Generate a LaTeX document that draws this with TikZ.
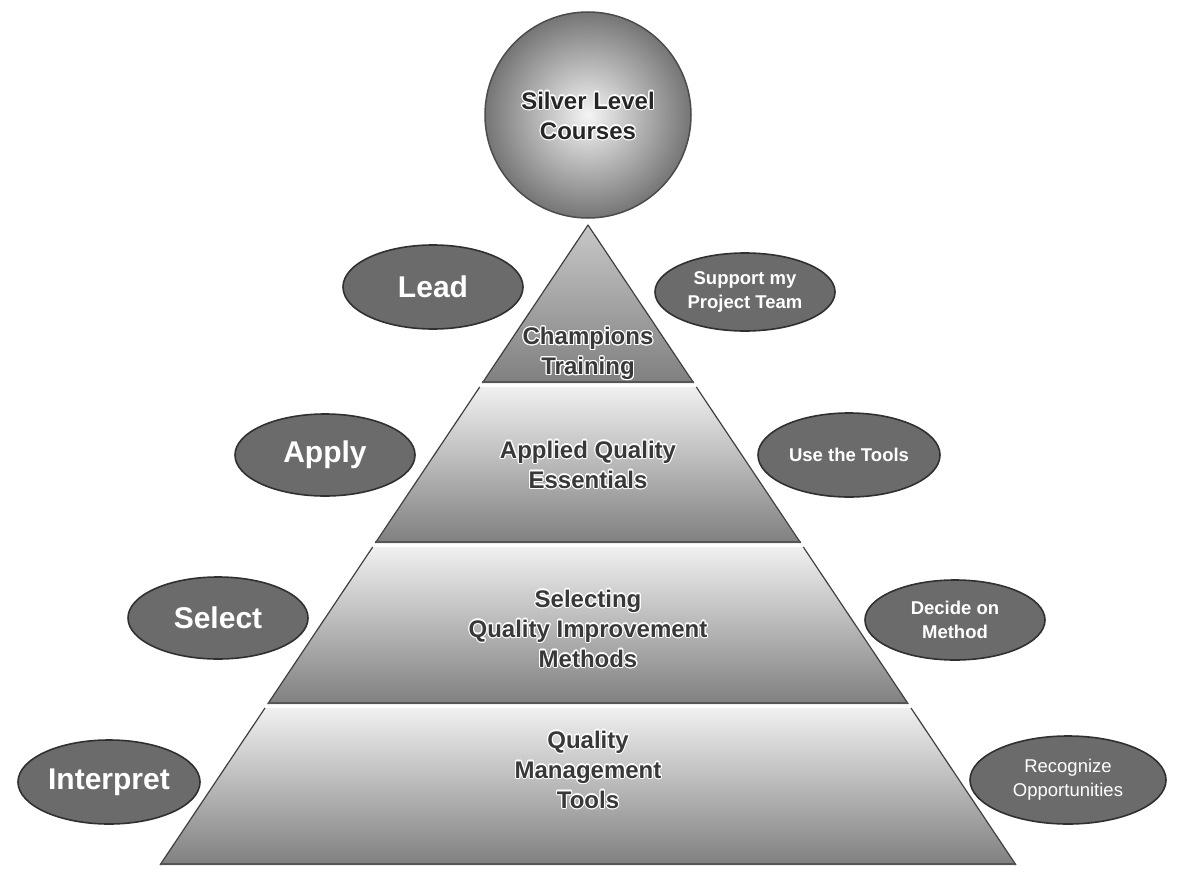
\documentclass[tikz,border=0pt]{standalone}
\usepackage{fontspec}
\setmainfont{Liberation Sans}
\usepackage[copies]{contour}
\usetikzlibrary{shapes.geometric}
\contourlength{1.1pt}
\newcommand{\glowtxt}[1]{\contour{white}{#1}}
\definecolor{bubblefill}{HTML}{6B6B6B}
\definecolor{bubbleline}{HTML}{303030}
\definecolor{tiertext}{HTML}{383838}
\definecolor{tierline}{HTML}{404040}
\definecolor{tierbase}{HTML}{555555}
\tikzset{
  bubble/.style={ellipse, draw=bubbleline, line width=1.6pt, fill=bubblefill, text=white,
    inner sep=0pt, minimum width=180pt, minimum height=82pt, align=center},
  bigword/.style={font=\fontsize{30}{34}\selectfont\bfseries},
  smallword/.style={font=\fontsize{18.5}{24}\selectfont\bfseries},
  thinword/.style={font=\fontsize{18.5}{24}\selectfont},
  tiertxt/.style={align=center, font=\fontsize{24}{30}\selectfont\bfseries, text=tiertext, inner sep=0pt},
  tierfill/.style={top color=white!94!black, bottom color=black!50},
  tieredge/.style={draw=tierline, line width=1.2pt, line join=round},
  tierfoot/.style={draw=tierbase, line width=2.6pt},
}
\begin{document}
\begin{tikzpicture}[x=1pt,y=-1pt]
\useasboundingbox (0,0) rectangle (1186,888);
% top circle
\node[circle, minimum size=206pt, inner sep=0pt, draw=black!70, line width=1.5pt,
      inner color=white!96!black, outer color=black!54] (silver) at (588,115) {};
\node[tiertxt, text=black!85] (silvertxt) at (588,116) {\glowtxt{Silver Level}\\\glowtxt{Courses}};
% pyramid tiers
\shade[top color=black!22, bottom color=black!50] (588,225) -- (693.7,383) -- (482.3,383) -- cycle;
\draw[tieredge] (482.3,383) -- (588,225) -- (693.7,383);
\draw[tierfoot] (482.3,382) -- (693.7,382);

\shade[tierfill] (479.7,387) -- (696.3,387) -- (800.7,543) -- (375.3,543) -- cycle;
\draw[tieredge] (479.7,387) -- (375.3,543);
\draw[tieredge] (696.3,387) -- (800.7,543);
\draw[tierfoot] (375.3,542) -- (800.7,542);

\shade[tierfill] (372.7,547) -- (803.3,547) -- (908.3,704) -- (267.7,704) -- cycle;
\draw[tieredge] (372.7,547) -- (267.7,704);
\draw[tieredge] (803.3,547) -- (908.3,704);
\draw[tierfoot] (267.7,703) -- (908.3,703);

\shade[tierfill] (265,708) -- (911,708) -- (1016,865) -- (160,865) -- cycle;
\draw[tieredge] (265,708) -- (160,865);
\draw[tieredge] (911,708) -- (1016,865);
\draw[tierfoot] (160,864) -- (1016,864);

% tier labels
\node[tiertxt] (champ) at (588,354) {\glowtxt{Champions}\\\glowtxt{Training}};
\node[tiertxt] (aqe) at (588,465) {\glowtxt{Applied Quality}\\\glowtxt{Essentials}};
\node[tiertxt] (sqim) at (588,629) {\glowtxt{Selecting}\\\glowtxt{Quality Improvement}\\\glowtxt{Methods}};
\node[tiertxt] (qmt) at (588,770) {\glowtxt{Quality}\\\glowtxt{Management}\\\glowtxt{Tools}};

% left bubbles
\node[bubble, bigword, minimum height=84pt] (lead) at (433,287) {Lead};
\node[bubble, bigword] (apply) at (325,455) {Apply};
\node[bubble, bigword] (select) at (218,618) {Select};
\node[bubble, bigword, minimum width=182pt, minimum height=84pt] (interp) at (109,782) {Interpret};
% right bubbles
\node[bubble, smallword, minimum height=78pt] (support) at (745,292) {Support my\\Project Team};
\node[bubble, smallword, minimum width=182pt, minimum height=84pt] (tools) at (849,455) {Use the Tools};
\node[bubble, smallword, minimum height=80pt] (decide) at (955,620) {Decide on\\Method};
\node[bubble, thinword, minimum width=196pt, minimum height=88pt] (recog) at (1068,780) {Recognize\\Opportunities};
\end{tikzpicture}
\end{document}
